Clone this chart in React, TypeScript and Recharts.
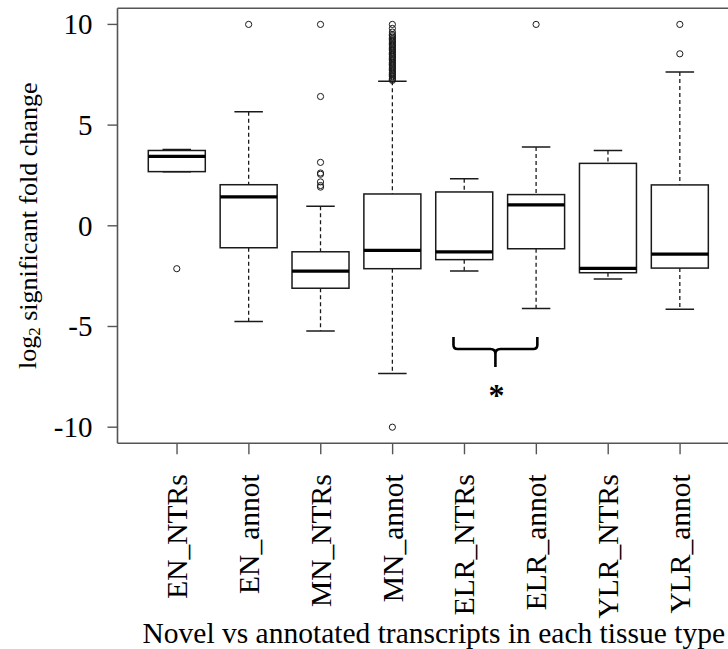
import React from 'react';
import { ComposedChart, Bar, XAxis, YAxis, ReferenceLine } from 'recharts';

// one entry per box
const categories = ['EN_NTRs', 'EN_annot', 'MN_NTRs', 'MN_annot', 'ELR_NTRs', 'ELR_annot', 'YLR_NTRs', 'YLR_annot'];
const whiskerLow = [2.69, -4.75, -5.22, -7.33, -2.25, -4.11, -2.64, -4.14];
const q1 = [2.69, -1.09, -3.1, -2.13, -1.68, -1.14, -2.33, -2.1];
const median = [3.45, 1.44, -2.25, -1.22, -1.29, 1.04, -2.11, -1.41];
const q3 = [3.74, 2.04, -1.29, 1.58, 1.68, 1.55, 3.1, 2.03];
const whiskerHigh = [3.79, 5.66, 0.97, 7.18, 2.34, 3.91, 3.74, 7.64];
const outliers = [
  [-2.13],
  [10],
  [10, 6.42, 3.15, 2.62, 2.56, 2.18, 2.0, 1.92],
  [
    -10, 7.22, 7.27, 7.33, 7.4, 7.45, 7.52, 7.58, 7.63, 7.7, 7.76, 7.83, 7.88, 7.95, 8.01, 8.07,
    8.12, 8.19, 8.25, 8.31, 8.38, 8.43, 8.5, 8.56, 8.62, 8.69, 8.74, 8.8, 8.87, 8.93, 8.99, 9.05,
    9.12, 9.18, 9.24, 9.3, 9.37, 9.44, 9.5, 9.62, 9.8, 10,
  ],
  [],
  [10],
  [],
  [10, 8.54],
];
const yTicks = [-10, -5, 0, 5, 10];
const yDomain = [-10.8, 10.8];

// significance bracket between ELR_NTRs and ELR_annot
const bracketPair = ['ELR_NTRs', 'ELR_annot'];
const bracketLevel = -6.12;

const data = categories.map((name, i) => ({
  name,
  lo: whiskerLow[i],
  q1: q1[i],
  med: median[i],
  q3: q3[i],
  hi: whiskerHigh[i],
  out: outliers[i],
}));

const FONT = "'Liberation Serif', 'Times New Roman', serif";
const INK = '#1a1a1a';
const FRAME = '#555';

const BoxShape = (props: any) => {
  const { x, y, width, height, payload } = props;
  const top = Math.min(y, y + height);
  const h = Math.abs(height);
  const k = h / (payload.hi - payload.lo);
  const py = (v: number) => top + (payload.hi - v) * k;
  const cx = x + width / 2;
  const cap = width / 4;
  return (
    <g>
      <line x1={cx} x2={cx} y1={py(payload.hi)} y2={py(payload.q3)} stroke={INK} strokeWidth={1.3} strokeDasharray="4 3" />
      <line x1={cx} x2={cx} y1={py(payload.q1)} y2={py(payload.lo)} stroke={INK} strokeWidth={1.3} strokeDasharray="4 3" />
      <line x1={cx - cap} x2={cx + cap} y1={py(payload.hi)} y2={py(payload.hi)} stroke={INK} strokeWidth={1.5} />
      <line x1={cx - cap} x2={cx + cap} y1={py(payload.lo)} y2={py(payload.lo)} stroke={INK} strokeWidth={1.5} />
      <rect
        x={x}
        y={py(payload.q3)}
        width={width}
        height={py(payload.q1) - py(payload.q3)}
        fill="#fff"
        stroke={INK}
        strokeWidth={1.5}
      />
      <line x1={x} x2={x + width} y1={py(payload.med)} y2={py(payload.med)} stroke="#000" strokeWidth={3.2} />
      {payload.out.map((v: number, j: number) => (
        <circle key={j} cx={cx} cy={py(v)} r={3.1} fill="none" stroke={INK} strokeWidth={1} />
      ))}
    </g>
  );
};

const RotatedTick = (props: any) => {
  const { x, y, payload } = props;
  return (
    <text
      x={x}
      y={y}
      transform={`rotate(-90, ${x}, ${y})`}
      textAnchor="end"
      dominantBaseline="central"
      style={{ fontFamily: FONT }}
      fontSize={29.5}
      fill="#000"
    >
      {payload.value}
    </text>
  );
};

const YTick = (props: any) => {
  const { x, y, payload } = props;
  return (
    <text x={x} y={y} dy="0.34em" textAnchor="end" style={{ fontFamily: FONT }} fontSize={29} fill="#000">
      {payload.value}
    </text>
  );
};

const YTitle = (props: any) => {
  const vb = props.viewBox || { x: 0, y: 8, width: 117, height: 435 };
  const cx = 28;
  const cy = vb.y + vb.height / 2;
  return (
    <text
      x={cx}
      y={cy}
      transform={`rotate(-90, ${cx}, ${cy})`}
      textAnchor="middle"
      dominantBaseline="central"
      style={{ fontFamily: FONT }}
      fontSize={26}
      fill="#000"
    >
      log<tspan fontSize={17} dy={6}>2</tspan>
      <tspan dy={-6}> significant fold change</tspan>
    </text>
  );
};

const XTitle = (props: any) => {
  const vb = props.viewBox || { x: 117, y: 443, width: 611, height: 206 };
  return (
    <text
      x={vb.x + vb.width / 2 + 11}
      y={vb.y + vb.height - 6}
      textAnchor="middle"
      style={{ fontFamily: FONT }}
      fontSize={29.5}
      fill="#000"
    >
      Novel vs annotated transcripts in each tissue type
    </text>
  );
};

const Bracket = (props: any) => {
  const { x1, y1, x2 } = props;
  const xl = x1 - 11;
  const xr = x2 + 1;
  const mid = (xl + xr) / 2;
  const y = y1;
  const d = [
    `M ${xl} ${y - 12} L ${xl} ${y - 4} Q ${xl} ${y} ${xl + 4} ${y} L ${mid - 5} ${y} Q ${mid} ${y} ${mid} ${y + 5}`,
    `L ${mid} ${y + 18}`,
    `M ${mid} ${y + 5} Q ${mid} ${y} ${mid + 5} ${y} L ${xr - 4} ${y} Q ${xr} ${y} ${xr} ${y - 4} L ${xr} ${y - 12}`,
  ].join(' ');
  return (
    <g>
      <path d={d} fill="none" stroke="#000" strokeWidth={2.6} />
      <text x={mid + 1} y={y + 57} textAnchor="middle" style={{ fontFamily: FONT }} fontSize={32} fontWeight="bold" fill="#000">
        *
      </text>
    </g>
  );
};

export default function App() {
  return (
    <div style={{ position: 'absolute', left: 0, top: 0, width: 728, height: 649, background: '#fff' }}>
      <ComposedChart
        width={728}
        height={649}
        data={data}
        margin={{ top: 8.3, right: 0, bottom: 0, left: 0 }}
        barCategoryGap="10%"
      >
        <XAxis
          dataKey="name"
          type="category"
          interval={0}
          padding={{ left: 23.6, right: 12 }}
          height={205.7}
          tickSize={11}
          tickMargin={20}
          tick={<RotatedTick />}
          axisLine={{ stroke: FRAME, strokeWidth: 1.6 }}
          tickLine={{ stroke: FRAME, strokeWidth: 1.4 }}
          label={<XTitle />}
        />
        <YAxis
          type="number"
          domain={yDomain}
          allowDataOverflow
          ticks={yTicks}
          interval={0}
          width={117.5}
          tickSize={10}
          tickMargin={15}
          tick={<YTick />}
          axisLine={{ stroke: FRAME, strokeWidth: 1.6 }}
          tickLine={{ stroke: FRAME, strokeWidth: 1.4 }}
          label={<YTitle />}
        />
        <ReferenceLine y={yDomain[1]} stroke={FRAME} strokeWidth={1.6} ifOverflow="visible" />
        <Bar
          dataKey={(d: any) => [d.lo, d.hi]}
          isAnimationActive={false}
          shape={(p: any) => <BoxShape {...p} />}
        />
        <ReferenceLine
          segment={[
            { x: bracketPair[0], y: bracketLevel },
            { x: bracketPair[1], y: bracketLevel },
          ]}
          ifOverflow="visible"
          shape={(p: any) => <Bracket {...p} />}
        />
      </ComposedChart>
    </div>
  );
}
